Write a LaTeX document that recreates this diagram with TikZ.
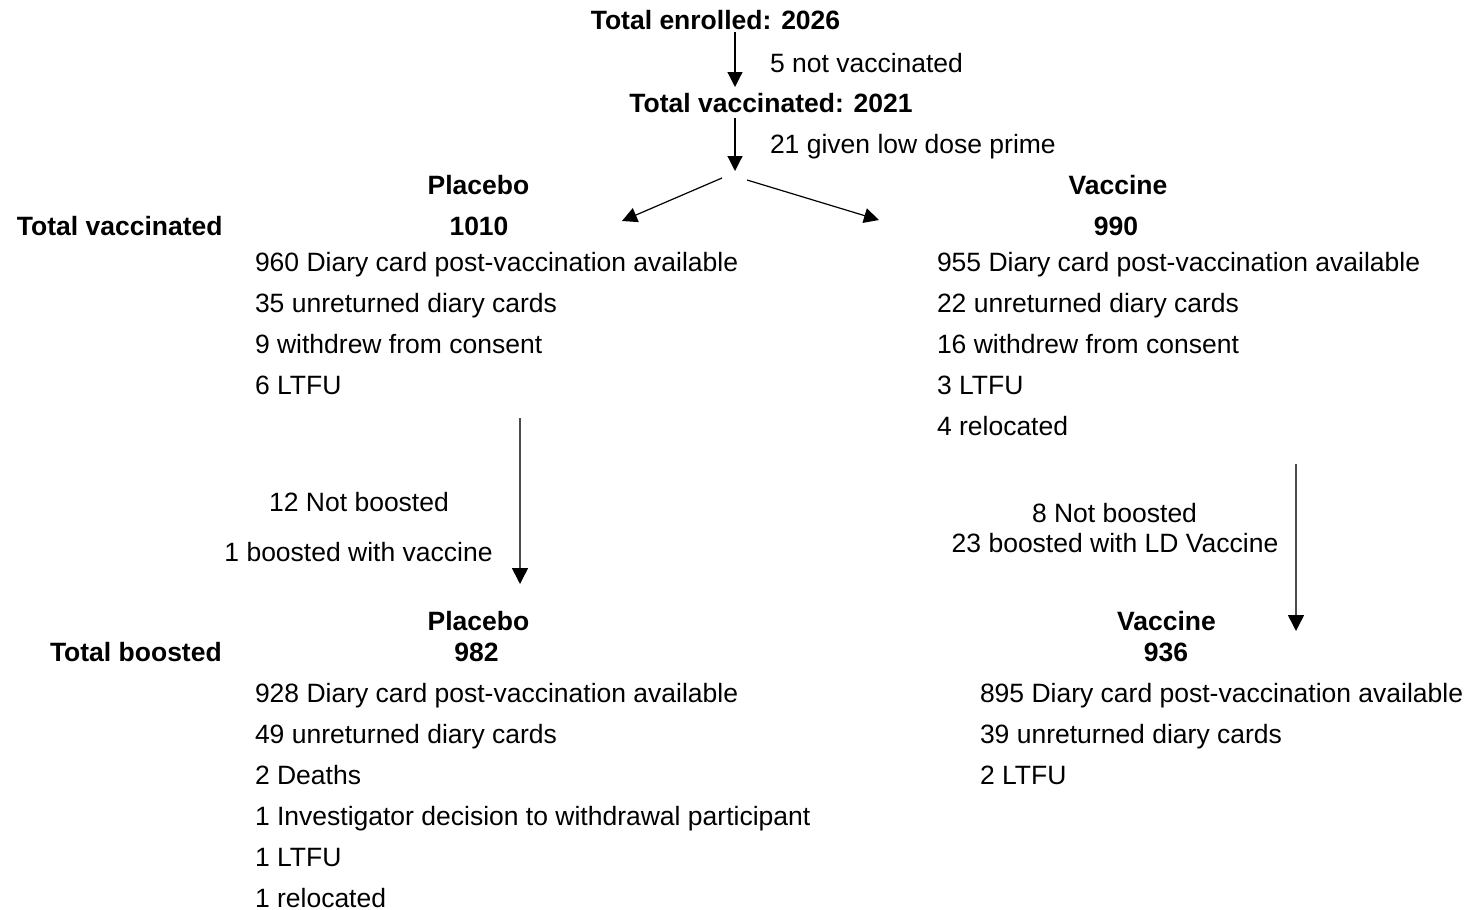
\documentclass[tikz,border=0pt]{standalone}
\usepackage{fontspec}
\setmainfont{Liberation Sans}
\usetikzlibrary{arrows.meta}
\begin{document}
\begin{tikzpicture}[x=0.5pt,y=-0.5pt,
  every node/.style={inner sep=0pt,outer sep=0pt,font=\fontsize{13.25pt}{15pt}\selectfont},
  lab/.style={anchor=base west},
  ctr/.style={anchor=base},
  hd/.style={anchor=base,font=\fontsize{13.25pt}{15pt}\selectfont\bfseries},
  hdl/.style={anchor=base west,font=\fontsize{13.25pt}{15pt}\selectfont\bfseries},
  arr/.style={-{Triangle[length=7.5pt,width=7.5pt]},line width=0.6pt,black},
  garr/.style={-{Triangle[length=8pt,width=8pt,color=black]},line width=0.8pt,black!70}]
\useasboundingbox (0,0) rectangle (1479,910);
% top
\node[hd] (enr) at (715.5,30) {Total enrolled: 2026};
\node[lab] (nv) at (770,72) {5 not vaccinated};
\node[hd] (vac) at (771,112) {Total vaccinated: 2021};
\node[lab] (ld) at (770,153) {21 given low dose prime};
\coordinate (a1s) at (735,32); \coordinate (a1e) at (735,87);
\coordinate (a2s) at (735,118); \coordinate (a2e) at (735,171);
\draw[arr] (a1s) -- (a1e);
\draw[arr] (a2s) -- (a2e);
\coordinate (dls) at (722,178); \coordinate (dle) at (622,221);
\coordinate (drs) at (747,180); \coordinate (dre) at (879,220);
\draw[arr] (dls) -- (dle);
\draw[arr] (drs) -- (dre);
% groups
\node[hd] (pl1) at (478.5,194.5) {Placebo};
\node[hd] (va1) at (1118,194.5) {Vaccine};
\node[hdl] (tv) at (17,235.5) {Total vaccinated};
\node[hd] (n1010) at (479,235.5) {1010};
\node[hd] (n990) at (1116,235.5) {990};
% left list
\node[lab] (l1) at (255,271.5) {960 Diary card post-vaccination available};
\node[lab] (l2) at (255,312.5) {35 unreturned diary cards};
\node[lab] (l3) at (255,353.5) {9 withdrew from consent};
\node[lab] (l4) at (255,394.5) {6 LTFU};
% right list
\node[lab] (r1) at (937,271.5) {955 Diary card post-vaccination available};
\node[lab] (r2) at (937,312.5) {22 unreturned diary cards};
\node[lab] (r3) at (937,353.5) {16 withdrew from consent};
\node[lab] (r4) at (937,394.5) {3 LTFU};
\node[lab] (r5) at (937,435.5) {4 relocated};
% boost arrows
\coordinate (bls) at (520,418); \coordinate (ble) at (520,584);
\coordinate (brs) at (1296,464); \coordinate (bre) at (1296,631);
\draw[garr] (bls) -- (ble);
\draw[garr] (brs) -- (bre);
\node[ctr] (nb1) at (359,511.5) {12 Not boosted};
\node[ctr] (bv1) at (358.5,561.5) {1 boosted with vaccine};
\node[ctr] (nb2) at (1114.5,522.5) {8 Not boosted};
\node[ctr] (bv2) at (1115,552.5) {23 boosted with LD Vaccine};
% boosted groups
\node[hd] (pl2) at (478.5,630.5) {Placebo};
\node[hd] (va2) at (1166.5,630.5) {Vaccine};
\node[hdl] (tb) at (50,661.5) {Total boosted};
\node[hd] (n982) at (476.5,661.5) {982};
\node[hd] (n936) at (1166,661.5) {936};
% lower left list
\node[lab] (p1) at (255,702.5) {928 Diary card post-vaccination available};
\node[lab] (p2) at (255,743.5) {49 unreturned diary cards};
\node[lab] (p3) at (255,784.5) {2 Deaths};
\node[lab] (p4) at (255,825.5) {1 Investigator decision to withdrawal participant};
\node[lab] (p5) at (255,866.5) {1 LTFU};
\node[lab] (p6) at (255,907.5) {1 relocated};
% lower right list
\node[lab] (q1) at (980,702.5) {895 Diary card post-vaccination available};
\node[lab] (q2) at (980,743.5) {39 unreturned diary cards};
\node[lab] (q3) at (980,784.5) {2 LTFU};
\end{tikzpicture}
\end{document}
